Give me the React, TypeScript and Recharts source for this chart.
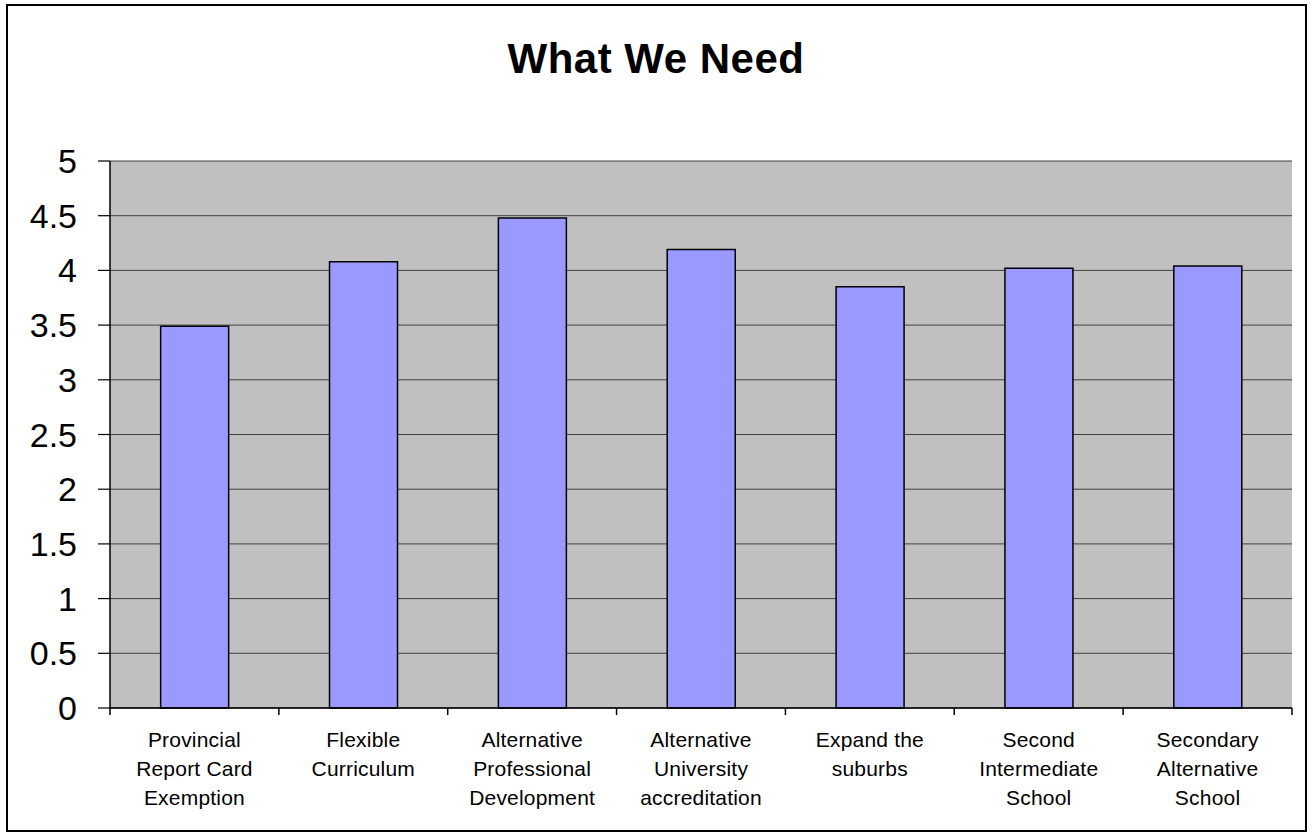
import React from "react";
import { BarChart, Bar, XAxis, YAxis, CartesianGrid } from "recharts";

const TITLE = "What We Need";
const categoryLines: string[][] = [
  ["Provincial", "Report Card", "Exemption"],
  ["Flexible", "Curriculum"],
  ["Alternative", "Professional", "Development"],
  ["Alternative", "University", "accreditation"],
  ["Expand the", "suburbs"],
  ["Second", "Intermediate", "School"],
  ["Secondary", "Alternative", "School"],
];
const values: number[] = [3.49, 4.08, 4.48, 4.19, 3.85, 4.02, 4.04];
const yTicks: number[] = [0, 0.5, 1, 1.5, 2, 2.5, 3, 3.5, 4, 4.5, 5];

const data = categoryLines.map((lines, i) => ({ name: lines.join(" "), lines, value: values[i] }));

const W = 1313;
const H = 832;
const MARGIN = { top: 161, right: 21, bottom: 0, left: 0 };
const Y_AXIS_W = 110;
const X_AXIS_H = 124;
const PLOT_W = W - MARGIN.left - MARGIN.right - Y_AXIS_W;
const BAND = PLOT_W / categoryLines.length;
const FONT = "'Liberation Sans', Arial, sans-serif";

const XTick = (props: any) => {
  const { x, y, index } = props;
  const lines: string[] = categoryLines[index] || [];
  const last = index === categoryLines.length - 1;
  return (
    <g>
      <line x1={x - BAND / 2} x2={x - BAND / 2} y1={y} y2={y + 7} stroke="#000" strokeWidth={1.5} />
      {last && <line x1={x + BAND / 2} x2={x + BAND / 2} y1={y} y2={y + 7} stroke="#000" strokeWidth={1.5} />}
      <text x={x} y={y + 38.5} textAnchor="middle" fontSize={21} fontFamily={FONT} fill="#000" letterSpacing={0.2}>
        {lines.map((l, i) => (
          <tspan key={i} x={x} dy={i === 0 ? 0 : 29.3}>
            {l}
          </tspan>
        ))}
      </text>
    </g>
  );
};

export default function App() {
  return (
    <div style={{ position: "absolute", left: 0, top: 0, width: W, height: H, background: "#fff" }}>
      <BarChart width={W} height={H} data={data} margin={MARGIN} barCategoryGap="30%">
        <CartesianGrid vertical={false} stroke="#404040" strokeWidth={1} fill="#C0C0C0" />
        <XAxis
          dataKey="name"
          interval={0}
          height={X_AXIS_H}
          tickLine={false}
          tickSize={0}
          tickMargin={0}
          axisLine={{ stroke: "#000", strokeWidth: 1.5 }}
          tick={<XTick />}
        />
        <YAxis
          width={Y_AXIS_W}
          domain={[0, 5]}
          ticks={yTicks}
          interval={0}
          tickSize={12}
          tickMargin={21}
          axisLine={{ stroke: "#000", strokeWidth: 1.5 }}
          tickLine={{ stroke: "#000", strokeWidth: 1.2 }}
          tick={{ fontSize: 34, fill: "#000", fontFamily: FONT }}
        />
        <Bar dataKey="value" fill="#9999FF" stroke="#000" strokeWidth={1.5} isAnimationActive={false} />
      </BarChart>
      <svg width={W} height={H} style={{ position: "absolute", left: 0, top: 0, pointerEvents: "none" }}>
        <rect x={7} y={5} width={1299} height={826} fill="none" stroke="#000" strokeWidth={2} />
        <text x={656} y={73} textAnchor="middle" fontSize={42} fontWeight="bold" fontFamily={FONT} fill="#000" letterSpacing={0.5}>
          {TITLE}
        </text>
      </svg>
    </div>
  );
}
